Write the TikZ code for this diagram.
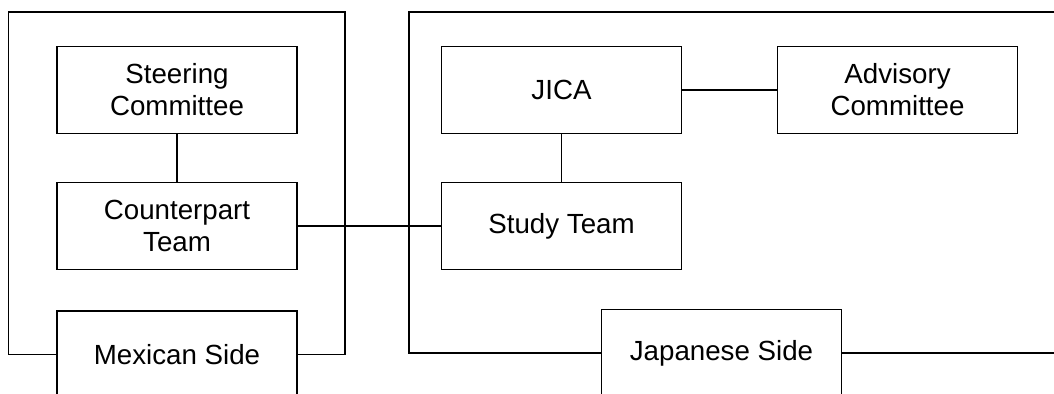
\documentclass[tikz,border=0pt]{standalone}
\usepackage{fontspec}
\setmainfont{Liberation Sans}
\usetikzlibrary{positioning}

\begin{document}
\begin{tikzpicture}[node distance=68pt,on grid,line width=0.9pt,
    unit/.style={draw,rectangle,minimum width=120pt,minimum height=43.5pt,
      align=center,inner sep=0pt,font=\fontsize{13.85}{16}\selectfont}]

   \clip (0pt,0pt) rectangle (527pt,-197pt);

   \node[unit] (steer) at (88.5pt,-45pt) {Steering\\Committee};
   \node[unit] (cpart) [below=68pt of steer] {Counterpart\\Team};
   \node[unit] (mexside) [below=64.25pt of cpart] {Mexican Side};

   \node[unit] (jica) [right=192.25pt of steer] {JICA};
   \node[unit] (advis) [right=168pt of jica] {Advisory\\Committee};
   \node[unit] (study) [below=68pt of jica] {Study Team};
   \node[unit] (japside) [below right=63.5pt and 80pt of study] {Japanese Side};

   \coordinate (mexl) at (4.25pt,-6pt);
   \coordinate (mexr) at (172.5pt,-6pt);
   \coordinate (japl) at (204.5pt,-6pt);
   \coordinate (japr) at (540pt,-6pt);

   % frames of the two sides
   \draw (mexside.west) -| (mexl) -- (mexr) |- (mexside.east);
   \draw (japside.west) -| (japl) -- (japr) |- (japside.east);

   \path
   (steer) edge (cpart)
   (cpart) edge (study)
   (jica)  edge (study)
           edge (advis);

\end{tikzpicture}
\end{document}
